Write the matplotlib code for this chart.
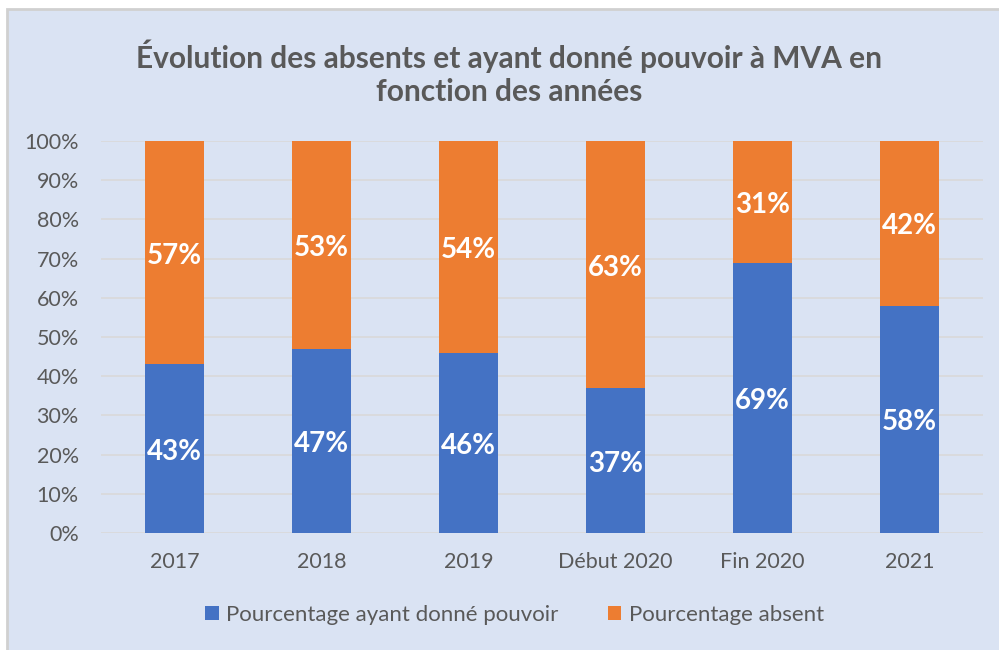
import matplotlib.pyplot as plt
from matplotlib.patches import Rectangle
import numpy as np

# données: pourcentages par année
annees = ['2017', '2018', '2019', 'Début 2020', 'Fin 2020', '2021']
pouvoir = [43, 47, 46, 37, 69, 58]
absent = [57, 53, 54, 63, 31, 42]

bleu = '#4472C4'
orange = '#ED7D31'
gris = '#595959'
fond = '#DAE3F3'

plt.rcParams['font.family'] = ['Lato', 'DejaVu Sans']

fig = plt.figure(figsize=(9.99, 6.5), dpi=100)
fig.patch.set_facecolor('white')
# zone du graphique avec bordure
fig.patches.append(Rectangle((7 / 999, -0.01), 1.0, (650 - 9) / 650 + 0.01,
                             transform=fig.transFigure, facecolor=fond,
                             edgecolor='#D0D0D0', linewidth=2, zorder=-1))

ax = fig.add_axes([101 / 999, 117 / 650, 882 / 999, 392 / 650])
ax.patch.set_alpha(0)

x = np.arange(len(annees))
b1 = ax.bar(x, pouvoir, width=0.4, color=bleu, label='Pourcentage ayant donné pouvoir', zorder=3)
b2 = ax.bar(x, absent, width=0.4, bottom=pouvoir, color=orange, label='Pourcentage absent', zorder=3)

# étiquettes au milieu de chaque segment
for i in range(len(annees)):
    ax.text(x[i], pouvoir[i] / 2 - 0.8, f'{pouvoir[i]}%', ha='center', va='center',
            color='white', fontsize=20, fontweight='bold', zorder=4)
    ax.text(x[i], pouvoir[i] + absent[i] / 2 - 0.8, f'{absent[i]}%', ha='center', va='center',
            color='white', fontsize=20, fontweight='bold', zorder=4)

ax.set_xlim(-0.5, len(annees) - 0.5)
ax.set_ylim(0, 100)
ax.set_yticks(range(0, 101, 10))
ax.set_yticklabels([f'{v}%' for v in range(0, 101, 10)])
ax.set_xticks(x)
ax.set_xticklabels(annees)
ax.tick_params(axis='both', length=0, colors=gris, labelsize=15.5)
ax.tick_params(axis='y', pad=16)
ax.tick_params(axis='x', pad=14)
ax.yaxis.grid(True, color='#D9D9D9', linewidth=1.2, zorder=0)
for s in ax.spines.values():
    s.set_visible(False)

fig.text(0.51, 1 - 73 / 650, 'Évolution des absents et ayant donné pouvoir à MVA en\nfonction des années',
         ha='center', va='center', fontsize=21.5, fontweight='bold', color=gris, linespacing=1.2)

leg = fig.legend(handles=[b1, b2], loc='center', bbox_to_anchor=(0.515, (650 - 615) / 650),
                 ncol=2, frameon=False, fontsize=16,
                 handlelength=0.6, handleheight=0.6, handletextpad=0.35, columnspacing=2.2)
for t in leg.get_texts():
    t.set_color(gris)

fig.savefig('out.png', dpi=100, facecolor=fig.get_facecolor())
